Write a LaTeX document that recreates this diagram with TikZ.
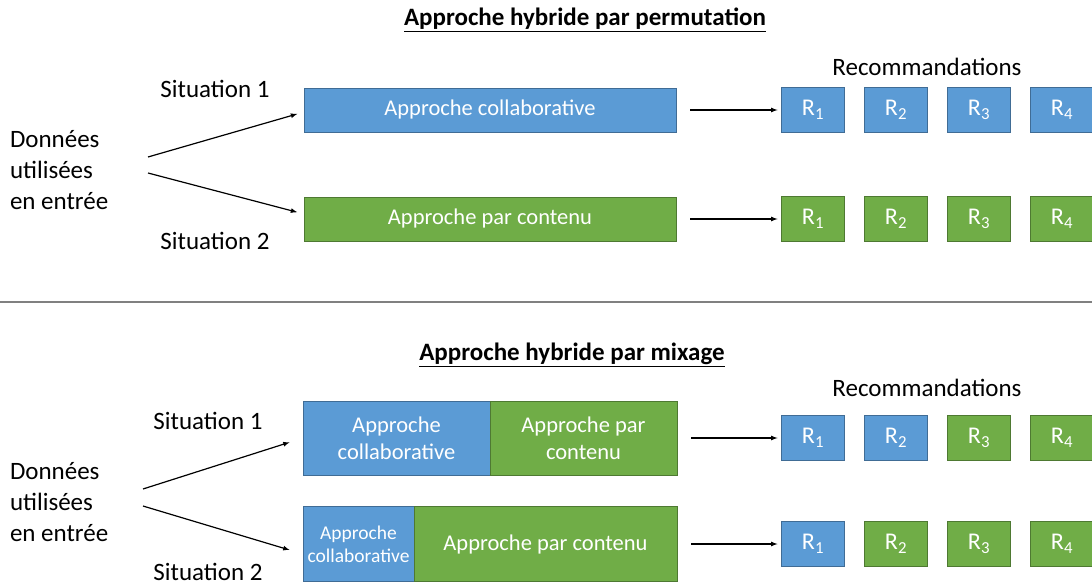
\documentclass[tikz,border=0pt]{standalone}
\usepackage{fontspec}
\setmainfont{Carlito}
\usetikzlibrary{arrows}
\definecolor{collab}{HTML}{5B9BD5}
\definecolor{contenu}{HTML}{70AD47}

\begin{document}
\begin{tikzpicture}[x=1pt, y=-1pt, >=latex, line width=1.2pt,
  every node/.style={inner sep=0pt, outer sep=0pt},
  lbl/.style={font=\fontsize{25}{31}\selectfont},
  ttl/.style={font=\fontsize{25}{30}\selectfont\bfseries},
  blk/.style={draw=#1!70!black, line width=0.8pt, fill=#1, text=white, align=center, font=\fontsize{22.5}{27}\selectfont},
  rbox/.style={blk=#1, minimum width=63, minimum height=45, font=\fontsize{24}{28}\selectfont}]
\useasboundingbox (0,0) rectangle (1092,585);
% permutation
\node[ttl] (titre1) at (585,20) {\underline{Approche hybride par permutation}};
\node[lbl] (reco1) at (927,67) {Recommandations};
\node[lbl, align=left, anchor=west] (don1) at (10,170) {Données\\utilisées\\en entrée};
\node[lbl] (sit11) at (215,89) {Situation 1};
\node[lbl] (sit12) at (215,241) {Situation 2};
\coordinate (d11) at (148,157);
\coordinate (d12) at (148,173);
\node[blk=collab, minimum width=372, minimum height=44] (perm1) at (490,110) {Approche collaborative};
\node[blk=contenu, minimum width=372, minimum height=44] (perm2) at (490,219) {Approche par contenu};
\node[rbox=collab] (r11) at (813,110) {R\textsubscript{1}};
\node[rbox=collab] (r12) at (896,110) {R\textsubscript{2}};
\node[rbox=collab] (r13) at (979,110) {R\textsubscript{3}};
\node[rbox=collab] (r14) at (1062,110) {R\textsubscript{4}};
\node[rbox=contenu] (r21) at (813,219) {R\textsubscript{1}};
\node[rbox=contenu] (r22) at (896,219) {R\textsubscript{2}};
\node[rbox=contenu] (r23) at (979,219) {R\textsubscript{3}};
\node[rbox=contenu] (r24) at (1062,219) {R\textsubscript{4}};
\draw [->, shorten >=7pt] (d11) -- ([yshift=-2pt]perm1.west);
\draw [->, shorten >=7pt] (d12) -- ([yshift=5pt]perm2.west);
\draw [->, shorten <=14pt, shorten >=4pt] (perm1.east) -- (r11.west);
\draw [->, shorten <=14pt, shorten >=4pt] (perm2.east) -- (r21.west);
% separation
\draw [gray, line width=2pt] (0,302) -- (1092,302);
% mixage
\node[ttl] (titre2) at (572,355) {\underline{Approche hybride par mixage}};
\node[lbl] (reco2) at (927,388) {Recommandations};
\node[lbl, align=left, anchor=west] (don2) at (10,502) {Données\\utilisées\\en entrée};
\node[lbl] (sit21) at (208,421) {Situation 1};
\node[lbl] (sit22) at (208,572) {Situation 2};
\coordinate (d21) at (143,489);
\coordinate (d22) at (143,506);
\node[blk=collab, minimum width=187, minimum height=74] (mix1a) at (396.5,438) {Approche\\collaborative};
\node[blk=contenu, minimum width=187, minimum height=74] (mix1b) at (583.5,438) {Approche par\\contenu};
\node[blk=collab, minimum width=111, minimum height=75, font=\fontsize{19.5}{23}\selectfont] (mix2a) at (358.5,544) {Approche\\collaborative};
\node[blk=contenu, minimum width=263, minimum height=75] (mix2b) at (545.5,544) {Approche par contenu};
\node[rbox=collab] (r31) at (813,438) {R\textsubscript{1}};
\node[rbox=collab] (r32) at (896,438) {R\textsubscript{2}};
\node[rbox=contenu] (r33) at (979,438) {R\textsubscript{3}};
\node[rbox=contenu] (r34) at (1062,438) {R\textsubscript{4}};
\node[rbox=collab] (r41) at (813,544) {R\textsubscript{1}};
\node[rbox=contenu] (r42) at (896,544) {R\textsubscript{2}};
\node[rbox=contenu] (r43) at (979,544) {R\textsubscript{3}};
\node[rbox=contenu] (r44) at (1062,544) {R\textsubscript{4}};
\draw [->, shorten >=14pt] (d21) -- (mix1a.west);
\draw [->, shorten >=14pt] (d22) -- ([yshift=-10pt]mix2a.west);
\draw [->, shorten <=14pt, shorten >=4pt] (mix1b.east) -- (r31.west);
\draw [->, shorten <=14pt, shorten >=4pt] (mix2b.east) -- (r41.west);
\end{tikzpicture}
\end{document}
